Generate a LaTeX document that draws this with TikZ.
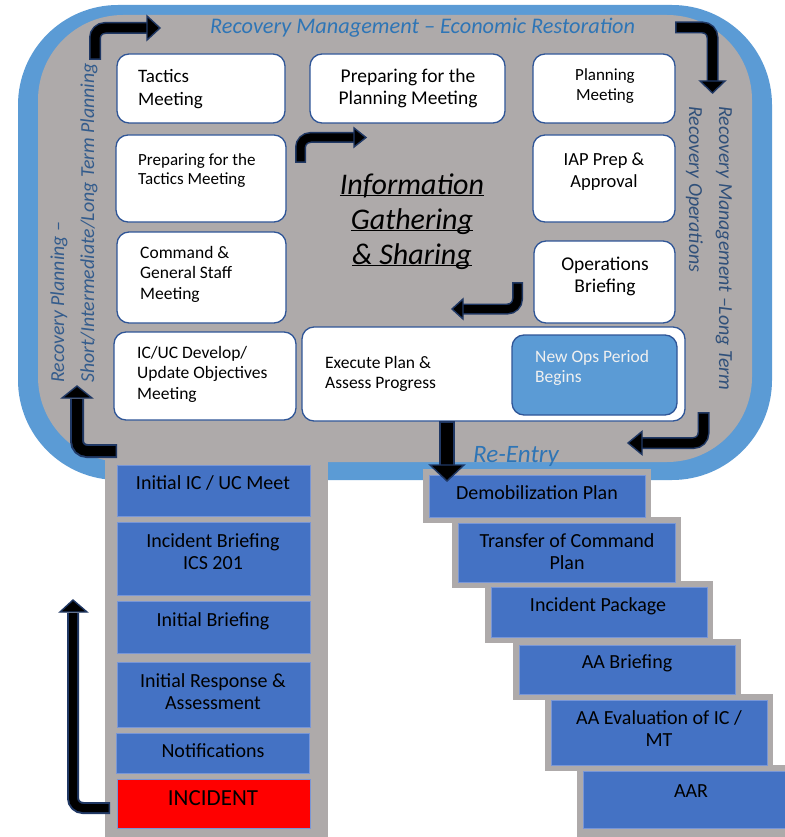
\documentclass[tikz,border=0pt]{standalone}
\usepackage{fontspec}
\setmainfont{Carlito}
\usetikzlibrary{fit}
\definecolor{ringblue}{RGB}{91,155,213}
\definecolor{greybg}{RGB}{174,170,170}
\definecolor{boxline}{RGB}{47,85,151}
\definecolor{stepblue}{RGB}{68,114,196}
\definecolor{stepline}{RGB}{120,150,215}
\definecolor{textblue}{RGB}{46,117,182}
\definecolor{vtblue}{RGB}{52,92,140}
\definecolor{vtblueb}{RGB}{48,80,122}
\definecolor{arrline}{RGB}{32,56,100}
\definecolor{opsfill}{RGB}{91,155,213}
\definecolor{opstext}{RGB}{240,240,240}
\definecolor{incred}{RGB}{255,0,0}
\newcommand\mlc[1]{\begin{tabular}[t]{@{}c@{}}#1\end{tabular}}
\newcommand\mll[1]{\begin{tabular}[t]{@{}l@{}}#1\end{tabular}}
\newcommand\fsz[2]{\fontsize{#1}{#2}\selectfont}
\newcommand\ulsm[1]{\underline{\smash{#1}}}
\tikzset{
  wbox/.style={draw=boxline, fill=white, line width=1.3pt, rounded corners=12pt, inner sep=0pt},
  sbox/.style={draw=stepline, fill=stepblue, line width=0.8pt, inner sep=0pt},
  rbox/.style={draw=stepline, fill=incred, line width=0.8pt, inner sep=0pt},
  obox/.style={draw=boxline, fill=opsfill, line width=1.3pt, rounded corners=12pt, inner sep=0pt},
  sframe/.style={fill=greybg, inner sep=0pt},
  lbl/.style={inner sep=0pt, text=black},
  aout/.style={draw=arrline, line width=#1, rounded corners=10pt},
  ain/.style={draw=black, line width=#1, rounded corners=10pt, shorten <=1.5pt},
  ahead/.style={fill=black, draw=arrline, line width=1.4pt, line join=miter}
}
\begin{document}
\begin{tikzpicture}[x=1pt,y=-1pt]
\useasboundingbox (0,0) rectangle (784,837);
\fill[white] (0,0) rectangle (784,837);
% frame
\fill[ringblue, rounded corners=100pt] (18,5) rectangle (772,480);
\fill[greybg, rounded corners=85pt] (38,15) rectangle (752,462);
\fill[greybg] (105,455) rectangle (328,837);
% stair frames
\node[sframe, fit={(423,469)(651,523)}] (f1) {};
\node[sframe, fit={(452,517)(681,588)}] (f2) {};
\node[sframe, fit={(485,581)(713,643)}] (f3) {};
\node[sframe, fit={(513,639)(741,700)}] (f4) {};
\node[sframe, fit={(545,694)(773,771)}] (f5) {};
\node[sframe, fit={(577,765)(810,837)}] (f6) {};
% stair boxes
\node[sbox, fit={(429,475)(645,517)}] (s1) {};
\node[sbox, fit={(458,523)(675,582)}] (s2) {};
\node[sbox, fit={(491,587)(707,637)}] (s3) {};
\node[sbox, fit={(519,645)(735,694)}] (s4) {};
\node[sbox, fit={(551,700)(767,765)}] (s5) {};
\node[sbox, fit={(583,771)(800,828)}] (s6) {};
% left stack
\node[sbox, fit={(117,465)(310,516)}] (l1) {};
\node[sbox, fit={(117,522)(310,595)}] (l2) {};
\node[sbox, fit={(117,601)(310,653)}] (l3) {};
\node[sbox, fit={(117,662)(310,727)}] (l4) {};
\node[sbox, fit={(116,733)(309,773)}] (l5) {};
\node[rbox, fit={(117,779)(310,828)}] (l6) {};
% white boxes
\node[wbox, fit={(117,54)(285,123)}] (tac) {};
\node[wbox, fit={(116,135)(286,222)}] (ptac) {};
\node[wbox, fit={(117,232)(286,323)}] (cgs) {};
\node[wbox, fit={(114,332)(296,420)}] (icuc) {};
\node[wbox, fit={(310,54)(505,123)}] (ppl) {};
\node[wbox, fit={(533,54)(675,123)}] (plm) {};
\node[wbox, fit={(533,135)(675,222)}] (iap) {};
\node[wbox, fit={(534,241)(675,323)}] (opb) {};
\node[wbox, fit={(302,327)(685,421)}] (exe) {};
\node[obox, fit={(512,335)(677,415)}] (nop) {};
% texts in white boxes
\node[lbl, anchor=base west, font=\fsz{19}{23}] (t-tac) at (138,83) {\mll{Tactics\\Meeting}};
\node[lbl, anchor=base west, font=\fsz{17}{20}] (t-ptac) at (138,165) {\mll{Preparing for the\\Tactics Meeting}};
\node[lbl, anchor=base west, font=\fsz{17.5}{20.5}] (t-cgs) at (140,258) {\mll{Command \&\\General Staff\\Meeting}};
\node[lbl, anchor=base west, font=\fsz{17.5}{20.5}] (t-icuc) at (137,358) {\mll{IC/UC Develop/\\Update Objectives\\Meeting}};
\node[lbl, anchor=base, font=\fsz{19.5}{22}] (t-ppl) at (408,83) {\mlc{Preparing for the\\Planning Meeting}};
\node[lbl, anchor=base, font=\fsz{17}{20}] (t-plm) at (605,81) {\mlc{Planning\\Meeting}};
\node[lbl, anchor=base, font=\fsz{18.5}{22}] (t-iap) at (604,165) {\mlc{IAP Prep \&\\Approval}};
\node[lbl, anchor=base, font=\fsz{19.5}{22}] (t-opb) at (605,270) {\mlc{Operations\\Briefing}};
\node[lbl, anchor=base west, font=\fsz{17.5}{20}] (t-exe) at (325,368) {\mll{Execute Plan \&\\Assess Progress}};
\node[lbl, anchor=base west, font=\fsz{17.5}{20}, text=opstext] (t-nop) at (535,362) {\mll{New Ops Period\\Begins}};
% center title
\node[lbl, anchor=base, font=\fsz{30}{35}\itshape] (t-info) at (412,194) {\mlc{\ulsm{Information}\\\ulsm{Gathering}\\\ulsm{\& Sharing}}};
% blue labels
\node[lbl, anchor=base west, font=\fsz{22.3}{24}\itshape, text=textblue] (t-top) at (210,34) {Recovery Management -- Economic Restoration};
\node[lbl, anchor=base west, rotate=90, font=\fsz{19.8}{30}\itshape, text=vtblue] (t-left) at (64,383) {\mll{Recovery Planning --\\Short/Intermediate/Long Term Planning}};
\node[lbl, anchor=base west, rotate=-90, font=\fsz{19.9}{30}\itshape, text=vtblueb] (t-right) at (719,106) {\mll{Recovery Management --Long Term\\Recovery Operations}};
\node[lbl, anchor=base west, font=\fsz{25}{26}\itshape, text=textblue] (t-re) at (473,462) {Re-Entry};
% left stack texts
\node[lbl, anchor=base, font=\fsz{20}{22}] (t-l1) at (213,489) {Initial IC / UC Meet};
\node[lbl, anchor=base, font=\fsz{20}{22}] (t-l2) at (213,547) {\mlc{Incident Briefing\\ICS 201}};
\node[lbl, anchor=base, font=\fsz{20}{22}] (t-l3) at (213,626) {Initial Briefing};
\node[lbl, anchor=base, font=\fsz{20}{22}] (t-l4) at (213,687) {\mlc{Initial Response \&\\Assessment}};
\node[lbl, anchor=base, font=\fsz{20}{22}] (t-l5) at (213,757) {Notifications};
\node[lbl, anchor=base, font=\fsz{23}{26}] (t-l6) at (213,805) {INCIDENT};
% stair texts
\node[lbl, anchor=base, font=\fsz{20}{22}] (t-s1) at (537,499) {Demobilization Plan};
\node[lbl, anchor=base, font=\fsz{20}{22}] (t-s2) at (567,547) {\mlc{Transfer of Command\\Plan}};
\node[lbl, anchor=base, font=\fsz{20}{22}] (t-s3) at (598,611) {Incident Package};
\node[lbl, anchor=base, font=\fsz{20}{22}] (t-s4) at (627,668) {AA Briefing};
\node[lbl, anchor=base, font=\fsz{20}{22}] (t-s5) at (659,724) {\mlc{AA Evaluation of IC /\\MT}};
\node[lbl, anchor=base, font=\fsz{20}{22}] (t-s6) at (691,797) {AAR};
% arrows
\coordinate (a1s) at (95,60); \coordinate (a1b) at (95,28); \coordinate (a1e) at (148,28); \coordinate (a1t) at (160,28);
\draw[aout=12pt] (a1s) -- (a1b) -- (a1e);
\draw[ain=9pt] (a1s) -- (a1b) -- (a1e);
\draw[ahead] (a1t) -- (147,16) -- (147,40) -- cycle;

\coordinate (a2s) at (675,27.5); \coordinate (a2b) at (712.5,27.5); \coordinate (a2e) at (712.5,82); \coordinate (a2t) at (712.5,93);
\draw[aout=12pt] (a2s) -- (a2b) -- (a2e);
\draw[ain=9pt] (a2s) -- (a2b) -- (a2e);
\draw[ahead] (a2t) -- (700,81) -- (725,81) -- cycle;

\coordinate (a3s) at (300.5,163); \coordinate (a3b) at (300.5,137.5); \coordinate (a3e) at (355,137.5); \coordinate (a3t) at (366,137.5);
\draw[aout=11pt] (a3s) -- (a3b) -- (a3e);
\draw[ain=8pt] (a3s) -- (a3b) -- (a3e);
\draw[ahead] (a3t) -- (354,128) -- (354,147) -- cycle;

\coordinate (a4s) at (517.5,282); \coordinate (a4b) at (517.5,309); \coordinate (a4e) at (462,309); \coordinate (a4t) at (452,309);
\draw[aout=11pt] (a4s) -- (a4b) -- (a4e);
\draw[ain=8pt] (a4s) -- (a4b) -- (a4e);
\draw[ahead] (a4t) -- (463,299) -- (463,319) -- cycle;

\coordinate (a5s) at (703.5,412); \coordinate (a5b) at (703.5,443); \coordinate (a5e) at (641,443); \coordinate (a5t) at (628,443);
\draw[aout=12pt] (a5s) -- (a5b) -- (a5e);
\draw[ain=9pt] (a5s) -- (a5b) -- (a5e);
\draw[ahead] (a5t) -- (642,431.5) -- (642,454.5) -- cycle;

\coordinate (a6s) at (447,421); \coordinate (a6e) at (447,466); \coordinate (a6t) at (447,481);
\draw[aout=16pt] (a6s) -- (a6e);
\draw[ain=12pt] (a6s) -- (a6e);
\draw[ahead] (a6t) -- (430,465) -- (464,465) -- cycle;

\coordinate (a7s) at (117,451); \coordinate (a7b) at (77,451); \coordinate (a7e) at (77,399); \coordinate (a7t) at (77,386);
\draw[aout=14pt] (a7s) -- (a7b) -- (a7e);
\draw[ain=10pt] (a7s) -- (a7b) -- (a7e);
\draw[ahead] (a7t) -- (62,398) -- (92,398) -- cycle;

\coordinate (a8s) at (110,808); \coordinate (a8b) at (73,808); \coordinate (a8e) at (73,613); \coordinate (a8t) at (73,600);
\draw[aout=12pt] (a8s) -- (a8b) -- (a8e);
\draw[ain=8pt] (a8s) -- (a8b) -- (a8e);
\draw[ahead] (a8t) -- (60,612) -- (87,612) -- cycle;
\end{tikzpicture}
\end{document}
